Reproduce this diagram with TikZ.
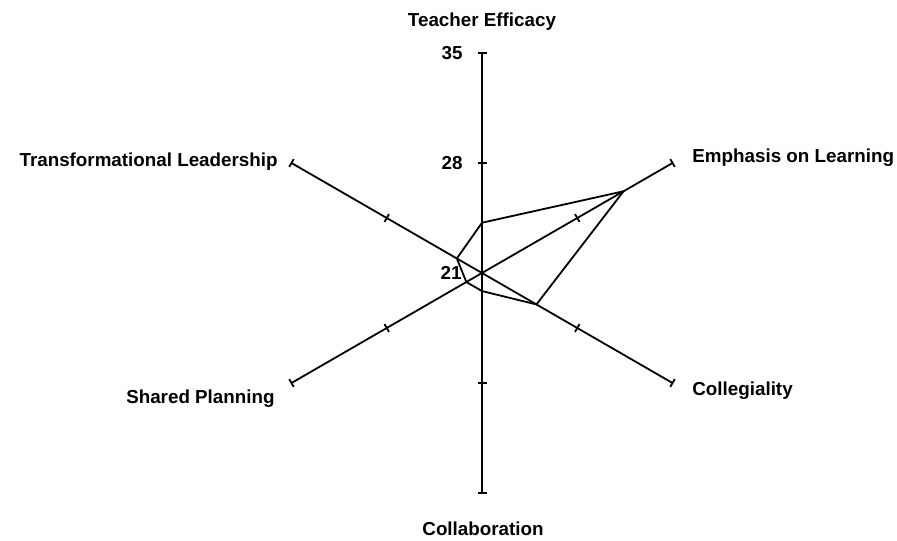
\documentclass[tikz,border=0pt]{standalone}
\usepackage{fontspec}
\setmainfont{Liberation Sans}
\begin{document}
\begin{tikzpicture}[x=0.5pt,y=0.5pt,
  axisline/.style={line width=0.9pt},
  lbl/.style={font=\fontsize{9.4}{11}\selectfont\bfseries, inner sep=0pt}]

% Fix the page size (reference margins)
\useasboundingbox (-482,-267) rectangle (415,273);

% Length of one score unit (21 at the centre, 35 at the end)
\def\unit{15.714}

% Define the centre of the chart
\coordinate (O) at (0,0);

% Draw the six axes with end ticks and half-way ticks
\foreach \ang/\nm in {90/te, 30/el, -30/cg, -90/cb, -150/sp, 150/tl} {
  \coordinate (\nm) at (\ang:220);
  \coordinate (\nm-mid) at (\ang:110);
  \draw[axisline] (O) -- (\nm);
  \draw[axisline, shift={(\nm)}, rotate=\ang] (0,-4.5) -- (0,4.5);
  \draw[axisline, shift={(\nm-mid)}, rotate=\ang] (0,-4.5) -- (0,4.5);
}

% Draw the score polygon
\draw[axisline] (90:{(24.2-21)*\unit}) -- (30:{(31.4-21)*\unit})
  -- (-30:{(25.0-21)*\unit}) -- (-90:{(22.15-21)*\unit})
  -- (-150:{(22.15-21)*\unit}) -- (150:{(22.85-21)*\unit}) -- cycle;

% Scale labels on the vertical axis
\node[lbl, anchor=east, xshift=-9.5pt] (v35) at (te) {35};
\node[lbl, anchor=east, xshift=-9.5pt] (v28) at (te-mid) {28};
\node[lbl, anchor=east, xshift=-10pt] (v21) at (O) {21};

% Axis names
\node[lbl, anchor=base] (nte) at (0,246) {Teacher Efficacy};
\node[lbl, anchor=base west] (nel) at (210,110) {Emphasis on Learning};
\node[lbl, anchor=base west] (ncg) at (210,-122) {Collegiality};
\node[lbl, anchor=base] (ncb) at (1,-262) {Collaboration};
\node[lbl, anchor=base east] (nsp) at (-207,-130) {Shared Planning};
\node[lbl, anchor=base east] (ntl) at (-204,106) {Transformational Leadership};

\end{tikzpicture}
\end{document}
